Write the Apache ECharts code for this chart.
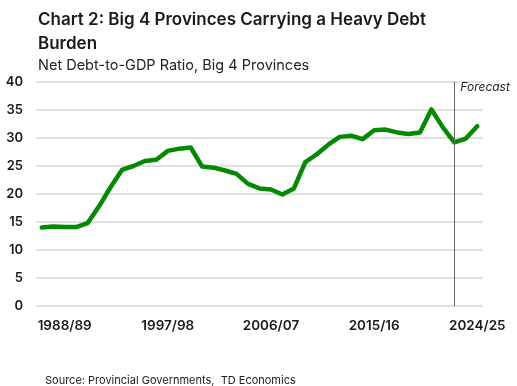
<!DOCTYPE html>
<html><head><meta charset="utf-8">
<script src="https://cdn.jsdelivr.net/npm/echarts@6/dist/echarts.min.js"></script>
<style>html,body{margin:0;padding:0;background:#fff}#c{width:517px;height:386px}</style>
</head><body><div id="c"></div>
<script>
const years = ['1986/87','1987/88','1988/89','1989/90','1990/91','1991/92','1992/93','1993/94','1994/95','1995/96','1996/97','1997/98','1998/99','1999/00','2000/01','2001/02','2002/03','2003/04','2004/05','2005/06','2006/07','2007/08','2008/09','2009/10','2010/11','2011/12','2012/13','2013/14','2014/15','2015/16','2016/17','2017/18','2018/19','2019/20','2020/21','2021/22','2022/23','2023/24','2024/25'];
const debtRatio = [14.0,14.2,14.1,14.1,14.8,17.8,21.2,24.3,25.0,25.9,26.1,27.7,28.1,28.3,24.9,24.7,24.2,23.6,21.8,21.0,20.8,19.9,21.0,25.7,27.1,28.8,30.2,30.4,29.8,31.4,31.5,31.0,30.7,31.0,35.1,31.9,29.2,29.9,32.1];
const shownLabels = ['1988/89','1997/98','2006/07','2015/16','2024/25'];
const forecastStart = '2022/23';
const yTicks = [0,5,10,15,20,25,30,35,40];

const FONT = 'Inter';
const chart = echarts.init(document.getElementById('c'));
chart.setOption({
  animation: false,
  textStyle: {fontFamily: FONT},
  title: [
    {text: 'Chart 2: Big 4 Provinces Carrying a Heavy Debt\nBurden', left: 33, top: 3,
     textStyle: {fontFamily: FONT, fontSize: 17, fontWeight: 600, color: '#1a1a1a', lineHeight: 24}},
    {text: 'Net Debt-to-GDP Ratio, Big 4 Provinces', left: 33, top: 53,
     textStyle: {fontFamily: FONT, fontSize: 14.5, fontWeight: 400, color: '#222'}},
    {text: 'Source: Provincial Governments,  TD Economics', left: 40, top: 370,
     textStyle: {fontFamily: FONT, fontSize: 11, fontWeight: 400, color: '#222'}}
  ],
  grid: {left: 36, right: 34, top: 82, bottom: 80, containLabel: false},
  xAxis: {
    type: 'category', data: years, boundaryGap: true,
    axisLine: {show: false}, axisTick: {show: false},
    axisLabel: {
      interval: (i, v) => shownLabels.indexOf(v) >= 0,
      margin: 13, fontSize: 13.5, fontWeight: 600, color: '#1a1a1a', fontFamily: FONT
    },
    splitLine: {show: false}
  },
  yAxis: {
    type: 'value', min: yTicks[0], max: yTicks[yTicks.length-1], interval: 5,
    axisLine: {show: false}, axisTick: {show: false},
    axisLabel: {margin: 13, fontSize: 13, fontWeight: 600, color: '#1a1a1a', fontFamily: FONT},
    splitLine: {lineStyle: {color: '#d6d6d6', width: 1.5}}
  },
  series: [{
    type: 'line', data: debtRatio, symbol: 'none',
    lineStyle: {color: '#038a03', width: 4.5, join: 'round', cap: 'round'},
    markLine: {
      silent: true, symbol: 'none',
      lineStyle: {color: '#666', width: 1, type: 'solid'},
      label: {show: true, position: 'end', formatter: 'Forecast', fontStyle: 'italic',
              fontFamily: FONT, fontSize: 12, color: '#222', align: 'left', offset: [6, 16]},
      data: [[{xAxis: forecastStart, yAxis: 0}, {xAxis: forecastStart, yAxis: 40}]]
    }
  }]
});
</script></body></html>
